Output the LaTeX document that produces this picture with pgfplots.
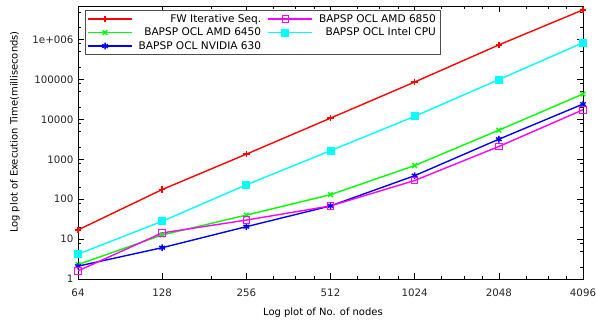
\documentclass[border=0pt]{standalone}
\usepackage{pgfplots}
\pgfplotsset{compat=1.18}
\usepackage{fontspec}
\setmainfont{DejaVu Sans}
\definecolor{gred}{RGB}{255,0,0}
\definecolor{ggreen}{RGB}{0,255,0}
\definecolor{gblue}{RGB}{0,0,255}
\definecolor{gmag}{RGB}{255,0,255}
\definecolor{gcyan}{RGB}{0,255,255}
\begin{document}
\begin{tikzpicture}
\useasboundingbox (-78bp,-46bp) rectangle (518bp,279bp);
\begin{axis}[
  at={(0,0)}, anchor=south west,
  scale only axis, width=505bp, height=273bp,
  xmode=log, ymode=log,
  xmin=64, xmax=4096, ymin=1, ymax=7e6,
  xtick={64,128,256,512,1024,2048,4096},
  xticklabels={64,128,256,512,1024,2048,4096},
  minor xtick={192,320,384,448,640,768,896,1280,1536,1792,2560,3072,3584},
  ytick={1,10,100,1000,10000,100000,1000000},
  yticklabels={1,10,100,1000,10000,100000,1e+006},
  minor ytick={2,5,8,20,50,80,200,500,800,2000,5000,8000,20000,50000,80000,200000,500000,800000,2000000,5000000},
  tick align=inside,
  major tick length=6bp, minor tick length=3bp,
  every tick/.style={black, line width=0.6pt},
  axis line style={black, line width=0.8pt},
  tick label style={font=\fontsize{10.3}{11}\selectfont, text=black!85},
  xticklabel style={yshift=-6.5bp},
  yticklabel style={xshift=-1bp},
  label style={font=\fontsize{9.3}{10}\selectfont},
  every axis x label/.style={at={(axis description cs:0.485,0)}, anchor=center, yshift=-34bp},
  every axis y label/.style={at={(axis description cs:-0.1248,0.538)}, rotate=90, anchor=center},
  xlabel={Log plot of No. of nodes},
  ylabel={Log plot of Execution Time(milliseconds)},
  legend columns=2,
  legend cell align=right,
  legend style={at={(axis description cs:0.014,0.985)}, anchor=north west,
    draw=black!70, line width=0.6pt, font=\fontsize{10.6}{12}\selectfont,
    row sep=0pt, column sep=4pt, inner sep=2pt,
    /tikz/every even column/.append style={column sep=4.5bp}},
  legend image code/.code={\draw[mark repeat=2,mark phase=2] plot coordinates {(0bp,0bp) (17bp,0bp) (34bp,0bp)};
    \path (0bp,0bp) -- (44bp,0bp);},
  every axis plot/.append style={line width=1.4pt, mark size=3.3bp},
]
% legend images in gnuplot column order
\addlegendimage{gred, mark=+}
\addlegendentry{FW Iterative Seq.}
\addlegendimage{gmag, mark=square, mark options={line width=1pt}}
\addlegendentry{BAPSP OCL AMD 6850}
\addlegendimage{ggreen, mark=x}
\addlegendentry{BAPSP OCL AMD 6450}
\addlegendimage{gcyan, mark=square*}
\addlegendentry{BAPSP OCL Intel CPU}
\addlegendimage{gblue, mark=asterisk}
\addlegendentry{BAPSP OCL NVIDIA 630}

\addplot[gred, mark=+, forget plot] coordinates {
 (64,17) (128,175) (256,1350) (512,10800) (1024,87000) (2048,740000) (4096,5600000)};
\addplot[ggreen, mark=x, forget plot] coordinates {
 (64,2.3) (128,12.7) (256,40) (512,130) (1024,700) (2048,5400) (4096,43500)};
\addplot[gblue, mark=asterisk, forget plot] coordinates {
 (64,2.1) (128,6.1) (256,20.5) (512,68) (1024,390) (2048,3200) (4096,24300)};
\addplot[gmag, mark=square, mark options={line width=1pt}, forget plot] coordinates {
 (64,1.6) (128,14.3) (256,30) (512,68) (1024,295) (2048,2100) (4096,17500)};
\addplot[gcyan, mark=square*, forget plot] coordinates {
 (64,4.2) (128,28) (256,230) (512,1650) (1024,12000) (2048,100000) (4096,840000)};
\end{axis}
\end{tikzpicture}
\end{document}
